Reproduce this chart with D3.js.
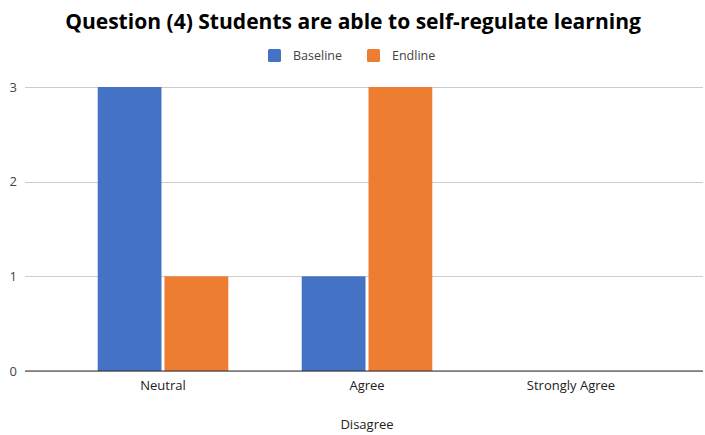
<!DOCTYPE html>
<html><head><meta charset="utf-8">
<script src="https://cdn.jsdelivr.net/npm/d3@7"></script>
<style>body{margin:0;background:#fff}svg{display:block}text{font-family:"Open Sans","Liberation Sans",sans-serif}</style>
</head><body><svg id="c" width="705" height="435"></svg>
<script>
const title = "Question (4) Students are able to self-regulate learning";
const categories = ["Neutral", "Agree", "Strongly Agree"];
const seriesNames = ["Baseline", "Endline"];
const baseline = [3, 1, 0];
const endline = [1, 3, 0];
const yTicks = [0, 1, 2, 3];
const xAxisTitle = "Disagree";
const colors = ["#4472C4", "#ED7D31"];

const svg = d3.select("#c");
const gridLeft = 25, gridRight = 703;
const y = d3.scaleLinear().domain([0, 3]).range([371, 87]);
const x0 = d3.scaleBand().domain(categories).range([61, 673]).padding(0);
const bw = x0.bandwidth();
const x1 = d3.scaleBand().domain(seriesNames).range([bw * 0.18, bw * 0.82]).paddingInner(0.045);

function fitText(sel, target, maxSize) {
  let s = maxSize;
  sel.attr("font-size", s);
  const w = sel.node().getComputedTextLength();
  s = s * target / w;
  sel.attr("font-size", s);
}

// title
const t = svg.append("text").attr("x", 353).attr("y", 29).attr("text-anchor", "middle")
  .attr("font-weight", "bold").attr("fill", "#000").text(title);
fitText(t, 576, 20);

// legend
const legendX = [268, 367];
seriesNames.forEach((n, i) => {
  svg.append("rect").attr("x", legendX[i]).attr("y", 49).attr("width", 13).attr("height", 13)
    .attr("rx", 1.5).attr("fill", colors[i]);
  svg.append("text").attr("x", legendX[i] + 25).attr("y", 60).attr("font-size", 12.5)
    .attr("fill", "#444").text(n);
});

// grid
const yAxis = d3.axisLeft(y).tickValues(yTicks).tickFormat(d3.format("d")).tickSize(-(gridRight - gridLeft)).tickPadding(8);
const ga = svg.append("g").attr("transform", `translate(${gridLeft},0)`).call(yAxis);
ga.select(".domain").remove();
ga.selectAll(".tick line").attr("stroke", "#cccccc").attr("shape-rendering", "crispEdges");
ga.selectAll(".tick text").attr("font-size", 13).attr("fill", "#444")
  .attr("font-family", '"Open Sans","Liberation Sans",sans-serif');

// bars
const data = categories.map((c, i) => ({cat: c, vals: [baseline[i], endline[i]]}));
const groups = svg.append("g").selectAll("g").data(data).join("g")
  .attr("transform", d => `translate(${x0(d.cat)},0)`);
groups.selectAll("rect").data(d => d.vals.map((v, j) => ({name: seriesNames[j], v, j})))
  .join("rect")
  .attr("x", d => x1(d.name)).attr("width", x1.bandwidth())
  .attr("y", d => y(d.v)).attr("height", d => y(0) - y(d.v))
  .attr("fill", d => colors[d.j]);

// baseline axis
svg.append("line").attr("x1", gridLeft).attr("x2", gridRight).attr("y1", y(0)).attr("y2", y(0))
  .attr("stroke", "#333").attr("stroke-width", 1.2);

// x labels
const xAxis = d3.axisBottom(x0).tickSize(0).tickPadding(10);
const gx = svg.append("g").attr("transform", `translate(0,${y(0)})`).call(xAxis);
gx.select(".domain").remove();
gx.selectAll(".tick text").attr("font-size", 13).attr("fill", "#222")
  .attr("font-family", '"Open Sans","Liberation Sans",sans-serif');

svg.append("text").attr("x", 367).attr("y", 429).attr("text-anchor", "middle")
  .attr("font-size", 13).attr("fill", "#222").text(xAxisTitle);
</script></body></html>
